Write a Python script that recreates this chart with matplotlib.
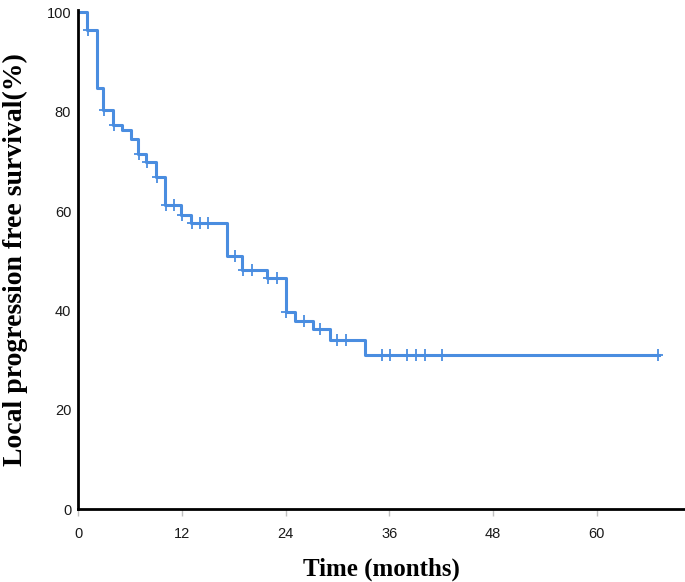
import numpy as np
import matplotlib.pyplot as plt

# Kaplan-Meier steps (months, % survival after the step)
step_times = [0, 1.0, 2.2, 2.9, 4.0, 5.1, 6.1, 6.9, 7.9, 9.0, 10.1, 11.9, 13.1, 17.2, 19.0, 21.9, 24.0, 25.1, 27.2, 29.1, 33.2]
step_surv = [100, 96.4, 84.8, 80.4, 77.4, 76.4, 74.6, 71.4, 69.8, 66.8, 61.3, 59.2, 57.6, 50.9, 48.1, 46.6, 39.7, 37.9, 36.2, 34.0, 31.0]
end_time = 67.2
censor_times = [1.1, 3.0, 4.1, 7.0, 8.0, 9.1, 10.2, 11.1, 12.0, 13.2, 14.1, 15.0, 18.1, 19.1, 20.1,
                22.0, 23.0, 24.1, 26.1, 28.0, 30.0, 31.0, 35.1, 36.1, 38.0, 39.1, 40.1, 42.1, 67.1]

blue = '#4a8de0'

def surv_at(t):
    i = np.searchsorted(step_times, t, side='right') - 1
    return step_surv[i]

fig = plt.figure(figsize=(6.85, 5.82), dpi=100)
ax = fig.add_axes([0.114, 0.1254, 0.886, 0.8576])

xs = step_times + [end_time]
ys = step_surv + [step_surv[-1]]
ax.step(xs, ys, where='post', color=blue, linewidth=2.2)
cy = [surv_at(t) for t in censor_times]
ax.plot(censor_times, cy, linestyle='none', marker='|', markersize=9, markeredgewidth=1.3, color=blue)
ax.plot(censor_times, cy, linestyle='none', marker='_', markersize=7, markeredgewidth=1.3, color=blue)

ax.set_xlim(0, 70.2)
ax.set_ylim(0, 100.5)
ax.set_xticks([0, 12, 24, 36, 48, 60])
ax.set_yticks([0, 20, 40, 60, 80, 100])
ax.spines['top'].set_visible(False)
ax.spines['right'].set_visible(False)
ax.spines['left'].set_linewidth(2)
ax.spines['bottom'].set_linewidth(2)
ax.tick_params(axis='x', labelsize=10.5, length=5, width=1, color='#c0c0c0', labelcolor='#1a1a1a', pad=8)
ax.tick_params(axis='y', labelsize=10.5, length=0, labelcolor='#1a1a1a', pad=5)
for lab in ax.get_xticklabels() + ax.get_yticklabels():
    lab.set_family('Liberation Sans')

ax.set_xlabel('Time (months)', fontsize=18, fontweight='bold', family='Liberation Serif', labelpad=12)
ax.set_ylabel('Local progression free survival(%)', fontsize=20, fontweight='bold', family='Liberation Serif', labelpad=13)

plt.savefig('out.png', dpi=100)
